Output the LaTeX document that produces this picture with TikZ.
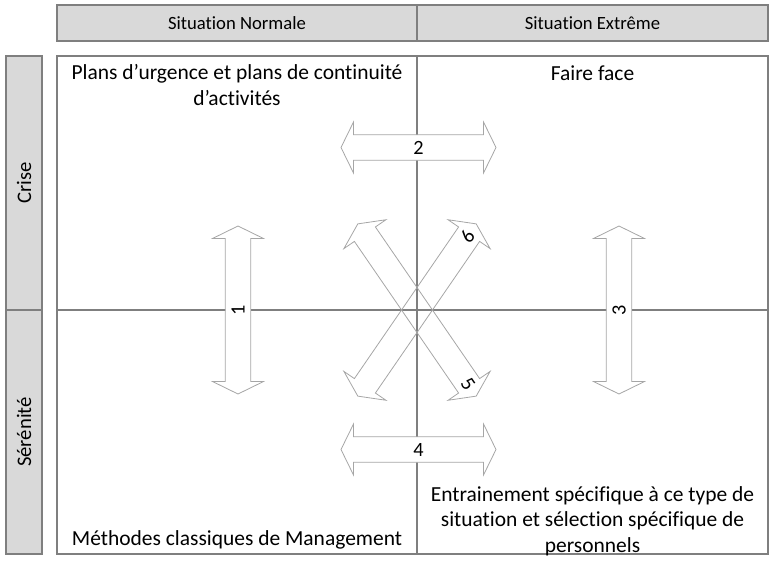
\documentclass[tikz,border=0pt]{standalone}
\usepackage{fontspec}
\setmainfont{Carlito}[Ligatures={TeX,NoCommon}]

\definecolor{framegray}{HTML}{7F7F7F}
\definecolor{headgray}{HTML}{D9D9D9}
\definecolor{arrowgray}{HTML}{A6A6A6}

\def\xleft{57}
\def\xright{768}
\def\xmid{417}
\def\ytop{56}
\def\ybot{554}
\def\ymid{310}

\def\headlen{12.5}
\def\headhw{25.5}
\def\shafthw{12.75}

\newcommand{\blockarrow}[2]{%
	\draw[#1] (-#2,0) -- (-#2+\headlen,\headhw) -- (-#2+\headlen,\shafthw) -- (#2-\headlen,\shafthw) -- (#2-\headlen,\headhw) -- (#2,0) -- (#2-\headlen,-\headhw) -- (#2-\headlen,-\shafthw) -- (-#2+\headlen,-\shafthw) -- (-#2+\headlen,-\headhw) -- cycle;}

\begin{document}
\begin{tikzpicture}[x=0.75pt, y=-0.75pt,
	font=\fontsize{16.1}{19.1}\selectfont,
	frame/.style={draw=framegray, line width=1.2pt},
	headbox/.style={frame, fill=headgray},
	arrowbox/.style={draw=arrowgray, line width=0.6pt, fill=white},
	arrowline/.style={draw=arrowgray, line width=0.6pt},
	headtext/.style={font=\fontsize{14}{16}\selectfont},
	sidetext/.style={font=\fontsize{15.5}{17}\selectfont, rotate=90},
	num/.style={font=\fontsize{15.2}{17}\selectfont, inner sep=1pt, transform shape}]

	\useasboundingbox (0,0) rectangle (770,564);

	%%% Header
	\draw[headbox] (\xleft,5) rectangle (\xright,41);
	\draw[frame] (\xmid,5) -- (\xmid,41);
	\node[headtext] (head_normal) at (237,23) {Situation Normale};
	\node[headtext] (head_extreme) at (592.5,23) {Situation Extrême};

	%%% Side column
	\draw[headbox] (6,\ytop) rectangle (42,\ybot);
	\draw[frame] (6,\ymid) -- (42,\ymid);
	\node[sidetext] (side_crise) at (24,183) {Crise};
	\node[sidetext] (side_serenite) at (24,432) {Sérénité};

	%%% Quadrants
	\draw[frame] (\xleft,\ytop) rectangle (\xright,\ybot);
	\draw[frame] (\xmid,\ytop) -- (\xmid,\ybot);
	\draw[frame] (\xleft,\ymid) -- (\xright,\ymid);

	\node[align=center] (q_plans) at (237,85) {Plans d’urgence et plans de continuité\\d’activités};
	\node (q_faire) at (592.5,73) {Faire face};
	\node (q_methodes) at (237,540) {Méthodes classiques de Management};
	\node[align=center] (q_entrainement) at (592.5,521) {Entrainement spécifique à ce type de\\situation et sélection spécifique de\\personnels};

	%%% Vertical arrows
	\begin{scope}[shift={(238,310)}, rotate=90]
		\blockarrow{arrowbox}{84}
		\node[num] (arr_one) at (0,0) {1};
	\end{scope}
	\begin{scope}[shift={(619,310)}, rotate=90]
		\blockarrow{arrowbox}{84}
		\node[num] (arr_three) at (0,0) {3};
	\end{scope}

	%%% Horizontal arrows
	\begin{scope}[shift={(418.5,147.5)}]
		\blockarrow{arrowbox}{77.5}
		\node[num] (arr_two) at (0,0) {2};
	\end{scope}
	\begin{scope}[shift={(418.5,449.5)}]
		\blockarrow{arrowbox}{77.5}
		\node[num] (arr_four) at (0,0) {4};
	\end{scope}

	%%% Diagonal arrows
	\begin{scope}[shift={(417,310)}, rotate=-55.5]
		\blockarrow{arrowline}{104.5}
		\node[num] (arr_five) at (90,0) {5};
	\end{scope}
	\begin{scope}[shift={(417,310)}, rotate=55.5]
		\blockarrow{arrowline}{104.5}
		\node[num] (arr_six) at (89,0) {6};
	\end{scope}

\end{tikzpicture}
\end{document}
